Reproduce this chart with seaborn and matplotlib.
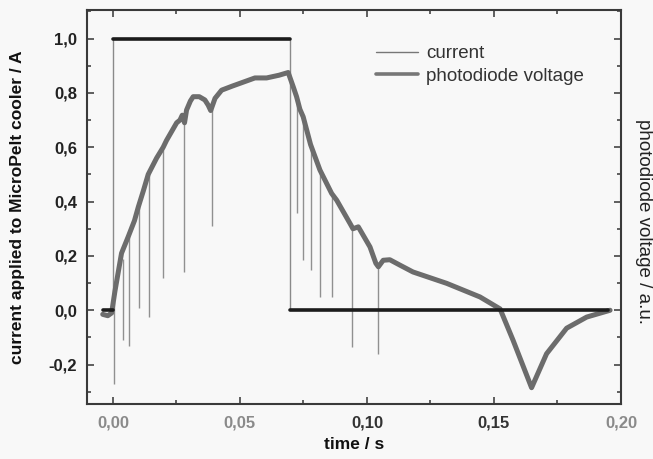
import pandas as pd
import matplotlib
matplotlib.use("Agg")
import matplotlib.pyplot as plt
from matplotlib.ticker import MultipleLocator, FuncFormatter
from matplotlib.lines import Line2D
import seaborn as sns

# current applied to the cooler (flat segments)
cur_seg = [0, 0, 1, 1, 2, 2]
cur_t = [-0.004, 0.0, 0.0, 0.0697, 0.0697, 0.195]
cur_v = [0.0, 0.0, 1.0, 1.0, 0.0, 0.0]
# switching edges of the current
edge_t = [0.0, 0.0697]
edge_lo = [0.0, 0.0]
edge_hi = [1.0, 1.0]

# photodiode voltage, smooth trace
pd_t = [-0.004, -0.002, -0.0005, 0.0008, 0.0034, 0.006, 0.0085, 0.010, 0.012,
        0.0139, 0.0172, 0.0198, 0.0211, 0.0251, 0.0264, 0.0273, 0.0282, 0.029,
        0.0305, 0.0316, 0.034, 0.0362, 0.0375, 0.0385, 0.0402, 0.0428, 0.047,
        0.0559, 0.0605, 0.0654, 0.069, 0.071, 0.0723, 0.0736, 0.0749, 0.0778,
        0.0815, 0.0861, 0.0881, 0.0933, 0.0945, 0.0966, 0.1012, 0.1035, 0.1045,
        0.1064, 0.109, 0.113, 0.1181, 0.1314, 0.1445, 0.1524, 0.1575, 0.1648,
        0.1707, 0.1786, 0.1865, 0.1957]
pd_v = [-0.015, -0.02, -0.01, 0.07, 0.21, 0.27, 0.33, 0.38, 0.44,
        0.50, 0.56, 0.60, 0.625, 0.69, 0.70, 0.718, 0.69, 0.737,
        0.77, 0.786, 0.786, 0.774, 0.755, 0.735, 0.78, 0.81, 0.825,
        0.855, 0.855, 0.865, 0.875, 0.822, 0.786, 0.74, 0.712, 0.61,
        0.516, 0.43, 0.405, 0.32, 0.30, 0.307, 0.233, 0.173, 0.16,
        0.184, 0.186, 0.166, 0.141, 0.099, 0.049, 0.005, -0.11, -0.285,
        -0.16, -0.066, -0.025, 0.0]

# sharp dips in the photodiode signal
spike_t = [0.0005, 0.0041, 0.0064, 0.0104, 0.0143, 0.0198, 0.0281, 0.0389,
           0.0723, 0.0747, 0.0778, 0.0815, 0.0861, 0.094, 0.1042]
spike_top = [0.03, 0.19, 0.27, 0.39, 0.50, 0.60, 0.70, 0.74,
             0.786, 0.712, 0.608, 0.516, 0.43, 0.31, 0.16]
spike_bottom = [-0.27, -0.11, -0.13, 0.01, -0.025, 0.12, 0.14, 0.31,
                0.357, 0.184, 0.147, 0.049, 0.05, -0.135, -0.16]

sns.set_style("ticks")
plt.rcParams['font.family'] = ['Liberation Sans', 'DejaVu Sans']

bg = '#f8f8f8'
fig = plt.figure(figsize=(6.53, 4.59), dpi=100, facecolor=bg)
ax = fig.add_axes([0.1332, 0.1198, 0.8178, 0.8584], facecolor=bg)

df_cur = pd.DataFrame({'t': cur_t, 'v': cur_v, 'seg': cur_seg})
df_pd = pd.DataFrame({'t': pd_t, 'v': pd_v})

ax.vlines(spike_t, spike_bottom, spike_top, color='#909090', lw=1.0, zorder=2)
ax.vlines(edge_t, edge_lo, edge_hi, color='#8a8a8a', lw=1.0, zorder=2)
sns.lineplot(data=df_pd, x='t', y='v', color='#6c6c6c', lw=3.6,
             estimator=None, sort=False, ax=ax, zorder=3)
sns.lineplot(data=df_cur, x='t', y='v', units='seg', color='#1c1c1c', lw=2.6,
             estimator=None, sort=False, ax=ax, zorder=4)

ax.set_xlim(-0.0102, 0.2)
ax.set_ylim(-0.345, 1.105)

ax.xaxis.set_major_locator(MultipleLocator(0.05))
ax.xaxis.set_minor_locator(MultipleLocator(0.025))
ax.yaxis.set_major_locator(MultipleLocator(0.2))
ax.yaxis.set_minor_locator(MultipleLocator(0.1))


def comma(fmt):
    def f(v, pos):
        if abs(v) < 1e-9:
            v = 0.0
        return format(v, fmt).replace('.', ',')
    return FuncFormatter(f)


ax.xaxis.set_major_formatter(comma('.2f'))
ax.yaxis.set_major_formatter(comma('.1f'))

ax.tick_params(which='both', direction='in', top=True, right=True,
               color='#444444', width=1.2)
ax.tick_params(which='major', length=5)
ax.tick_params(which='minor', length=3)
ax.tick_params(axis='x', pad=8, labelsize=12, labelcolor='#333333')
ax.tick_params(axis='y', pad=7, labelsize=12, labelcolor='#222222')
for lab in ax.get_yticklabels():
    lab.set_fontweight('bold')
for lab in ax.get_xticklabels():
    lab.set_fontweight('bold')
    if lab.get_text() in ('0,00', '0,05', '0,20'):
        lab.set_color('#8a8a8a')

for sp in ax.spines.values():
    sp.set_color('#3a3a3a')
    sp.set_linewidth(1.5)

ax.set_xlabel('time / s', fontsize=12.5, fontweight='bold', color='#111111')
ax.set_ylabel('current applied to MicroPelt cooler / A', fontsize=12.5,
              fontweight='bold', color='#111111')
ax.xaxis.set_label_coords(0.5, -0.084)
ax.yaxis.set_label_coords(-0.116, 0.5)
fig.text(0.985, 0.518, 'photodiode voltage / a.u.', rotation=270,
         ha='center', va='center', fontsize=13.5, color='#222222')

handles = [Line2D([], [], color='#777777', lw=1.0),
           Line2D([], [], color='#777777', lw=2.6)]
ax.legend(handles, ['current', 'photodiode voltage'], loc='upper left',
          bbox_to_anchor=(0.528, 0.93), frameon=False, fontsize=13.5,
          handlelength=2.2, handletextpad=0.45, labelspacing=0.3,
          borderaxespad=0, labelcolor='#333333')

fig.savefig('out.png', dpi=100, facecolor=bg)
